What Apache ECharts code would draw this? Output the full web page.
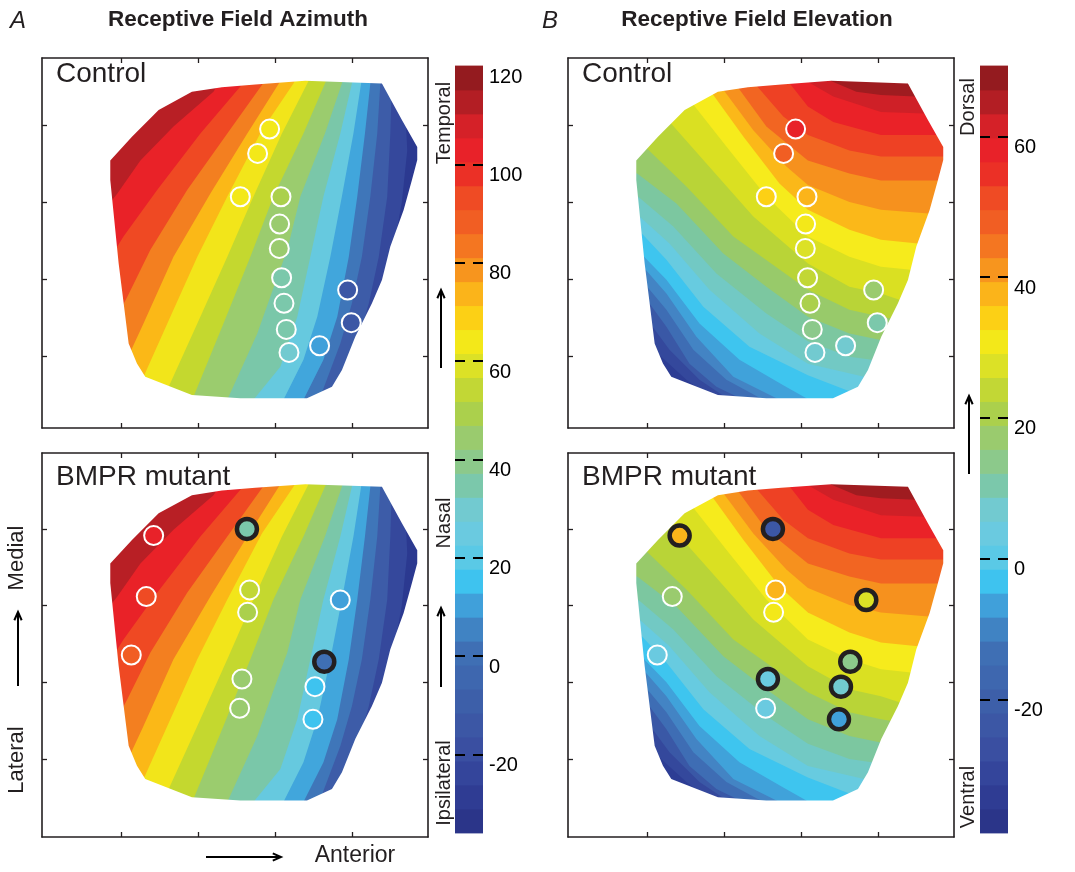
<!DOCTYPE html>
<html><head><meta charset="utf-8">
<script src="https://cdn.jsdelivr.net/npm/echarts@6/dist/echarts.min.js"></script>
<style>html,body{margin:0;padding:0;background:#fff}#c{width:1075px;height:872px}</style>
</head><body><div id="c"></div>
<script>
// ---------------- DATA ----------------
// colour scale shared by both colour bars (bottom -> top, equal steps)
const CBAR_COLORS = ['#2b3589','#2f3c93','#34459b','#3a4fa1','#3c57a5','#3d5fa9','#3e67af','#3f6fb4',
  '#4083c3','#40a0da','#3ec3ef','#5ac9e6','#6acae0','#72cad0','#7bc8ab','#8cc98b',
  '#9acb6e','#abd04c','#c2d735','#dce126','#f3e819','#fcd015','#fbb41a','#f7951e',
  '#f47621','#f15e23','#ef4b24','#eb3026','#e82229','#d52128','#b31e24','#941b1f'];
const AZ_RANGE = [-36, 120];
const EL_RANGE = [-39, 70];
const AZ_CBAR_TICKS = [-20, 0, 20, 40, 60, 80, 100];
const AZ_CBAR_LABELS = [-20, 0, 20, 40, 60, 80, 100, 120];
const EL_CBAR_TICKS = [-20, 0, 20, 40, 60];
const EL_CBAR_LABELS = [-20, 0, 20, 40, 60];

// outline of the mapped area (map units, 1 unit = 1 tick interval)
const MAP_OUTLINE = [[0.858,3.55],[1.14,3.857],[1.487,4.203],[1.92,4.44],[2.31,4.50],[2.744,4.537],[3.394,4.584],
  [4.391,4.55],[4.651,4.074],[4.85,3.723],[4.85,3.554],[4.781,3.294],[4.673,2.905],[4.499,2.429],[4.391,1.996],
  [4.261,1.693],[4.044,1.26],[3.871,0.827],[3.741,0.61],[3.416,0.459],[2.549,0.459],[1.92,0.502],[1.313,0.74],
  [1.205,0.913],[1.097,1.173],[1.032,1.693],[0.967,2.212],[0.923,2.645],[0.858,3.294]];
const MAP_TICKS = [1, 2, 3, 4];

// azimuth iso-lines (deg), ascending; each line runs from above the map to below/left of it
const AZ_LEVELS = [-20,-10,0,10,20,30,40,50,60,70,80,90,100,110];
const AZ_CONTOURS = [
  [[4.72,4.72],[4.69,4.33],[4.72,3.68],[4.65,3.01],[4.54,2.39],[4.41,1.87],[4.24,1.30],[4.07,0.87],[3.85,0.22]],
  [[4.54,4.72],[4.52,4.55],[4.50,3.90],[4.46,3.08],[4.35,2.30],[4.22,1.69],[4.07,1.17],[3.85,0.65],[3.72,0.22]],
  [[4.39,4.72],[4.37,4.55],[4.33,3.90],[4.24,3.08],[4.13,2.30],[4.00,1.69],[3.85,1.17],[3.59,0.48],[3.50,0.22]],
  [[4.26,4.72],[4.24,4.55],[4.17,3.90],[4.07,3.08],[3.96,2.30],[3.81,1.52],[3.63,0.96],[3.37,0.44],[3.29,0.22]],
  [[4.13,4.72],[4.12,4.55],[4.02,3.90],[3.87,3.08],[3.72,2.30],[3.55,1.52],[3.37,0.96],[3.11,0.44],[3.03,0.22]],
  [[4.02,4.72],[4.00,4.55],[3.85,3.90],[3.63,3.08],[3.46,2.30],[3.29,1.52],[3.07,0.87],[2.72,0.44],[2.64,0.22]],
  [[3.91,4.72],[3.87,4.55],[3.65,3.90],[3.33,3.08],[3.16,2.39],[3.00,1.95],[2.77,1.30],[2.38,0.44],[2.29,0.22]],
  [[3.72,4.72],[3.65,4.55],[3.37,3.90],[2.98,3.08],[2.68,2.30],[2.33,1.43],[1.94,0.48],[1.81,0.22]],
  [[3.50,4.72],[3.42,4.55],[3.09,3.90],[2.72,3.08],[2.38,2.30],[1.99,1.43],[1.60,0.57],[1.42,0.22]],
  [[3.33,4.72],[3.24,4.55],[2.83,3.94],[2.38,3.08],[1.99,2.30],[1.60,1.43],[1.25,0.65],[1.08,0.22]],
  [[3.16,4.72],[3.05,4.55],[2.64,3.90],[2.16,3.12],[1.68,2.30],[1.29,1.43],[1.03,0.87],[0.60,0.22]],
  [[2.98,4.72],[2.83,4.53],[2.38,3.90],[1.86,3.17],[1.38,2.39],[1.08,1.78],[0.60,0.87]],
  [[2.72,4.72],[2.55,4.51],[2.03,3.90],[1.47,3.17],[1.03,2.56],[0.60,1.87]],
  [[2.38,4.72],[2.20,4.44],[1.68,3.99],[1.25,3.55],[0.95,3.12],[0.38,2.39]]
];
// band colours: lowest band (-30..-20) first
const AZ_BAND_COLORS = ['#2b3990','#35489c','#3d5ca8','#3f76b9','#41a6dc','#66c9df','#7ac7a9','#9bcc6e',
  '#c4d82f','#f2e51a','#fbb817','#f37f20','#ef4923','#e92228','#b81f25'];

// elevation iso-lines (deg), ascending; each line runs from left/above the map to right/below it
const EL_LEVELS = [-35,-30,-25,-20,-15,-10,-5,0,5,10,15,20,25,30,35,40,45,50,55,60,65];
const EL_CONTOURS = [
  [[0.60,0.76],[1.29,0.75],[1.47,0.61],[1.60,0.00]],
  [[0.47,1.07],[1.14,1.04],[1.51,0.70],[1.81,0.48],[1.90,0.00]],
  [[0.47,1.41],[1.07,1.39],[1.29,1.09],[1.68,0.70],[2.07,0.44],[2.16,0.00]],
  [[0.47,1.71],[1.03,1.69],[1.25,1.39],[1.55,0.91],[1.90,0.61],[2.29,0.42],[2.42,0.00]],
  [[0.47,1.93],[1.00,1.91],[1.25,1.61],[1.60,1.09],[2.03,0.70],[2.51,0.44],[2.68,0.00]],
  [[0.47,2.15],[0.98,2.13],[1.25,1.82],[1.64,1.26],[2.12,0.74],[2.72,0.44],[2.98,0.00]],
  [[0.47,2.32],[0.96,2.30],[1.25,2.00],[1.68,1.43],[2.20,0.96],[2.77,0.63],[3.07,0.46],[3.42,0.00]],
  [[0.47,2.62],[0.93,2.60],[1.25,2.26],[1.73,1.65],[2.33,1.13],[3.09,0.76],[3.63,0.55],[4.07,0.00]],
  [[0.47,2.84],[0.90,2.82],[1.29,2.47],[1.81,1.87],[2.46,1.30],[3.09,0.91],[3.82,0.74],[4.98,0.65]],
  [[0.47,3.12],[0.88,3.08],[1.34,2.69],[1.90,2.08],[2.55,1.56],[3.09,1.20],[3.63,1.00],[3.92,0.96],[4.98,0.87]],
  [[0.47,3.47],[0.87,3.38],[1.38,2.99],[1.99,2.34],[2.55,1.91],[3.09,1.52],[3.63,1.30],[4.02,1.22],[4.98,1.13]],
  [[0.69,4.12],[0.99,3.71],[1.51,3.21],[2.12,2.56],[3.09,1.87],[3.63,1.61],[4.04,1.52],[4.16,1.50],[4.98,1.43]],
  [[1.03,4.46],[1.31,4.03],[1.77,3.51],[2.38,2.82],[3.09,2.21],[3.63,1.91],[4.04,1.82],[4.28,1.74],[4.98,1.69]],
  [[1.34,4.72],[1.62,4.25],[2.03,3.73],[2.55,3.08],[3.09,2.56],[3.63,2.30],[4.04,2.17],[4.43,2.13],[4.98,2.08]],
  [[1.60,4.81],[1.86,4.40],[2.25,3.86],[2.72,3.25],[3.09,2.91],[3.63,2.65],[4.04,2.52],[4.52,2.47],[4.98,2.45]],
  [[1.77,4.81],[2.01,4.44],[2.38,3.94],[2.81,3.47],[3.09,3.23],[3.63,3.01],[4.04,2.91],[4.66,2.86],[4.98,2.84]],
  [[1.99,4.81],[2.20,4.47],[2.55,3.99],[3.09,3.55],[3.63,3.38],[4.04,3.29],[4.78,3.29],[4.98,3.29]],
  [[2.25,4.81],[2.44,4.50],[2.77,4.12],[3.09,3.88],[3.63,3.68],[4.04,3.60],[4.85,3.60],[4.98,3.60]],
  [[2.64,4.81],[2.87,4.53],[3.09,4.25],[3.42,4.05],[4.04,3.88],[4.76,3.88],[4.98,3.88]],
  [[2.90,4.81],[3.11,4.56],[3.42,4.38],[4.04,4.18],[4.60,4.16],[4.98,4.14]],
  [[3.24,4.81],[3.39,4.58],[3.72,4.44],[4.04,4.40],[4.49,4.38],[4.98,4.33]]
];
// band colours: lowest band (-40..-35) first
const EL_BAND_COLORS = ['#273387','#2d3d94','#34489c','#3a58a6','#3e6db4','#4384c4','#40a2da','#3ec5ef',
  '#67cbe0','#72c9c4','#7cc7a0','#98ca6a','#b9d437','#dae022','#f6eb1c','#fbb819','#f6911e','#f26522',
  '#ee4124','#ea2228','#cf2027','#9f1c20'];

// recording sites
const CTRL_X  = [2.93, 2.774, 2.549, 3.078, 3.06, 3.056, 3.086, 3.117, 3.147, 3.182, 3.58, 3.945, 3.992];
const CTRL_Y  = [3.957, 3.641, 3.078, 3.078, 2.723, 2.407, 2.026, 1.693, 1.355, 1.056, 1.143, 1.866, 1.442];
const CTRL_AZ = [65, 63, 64, 50, 45, 44, 37, 33, 34, 30, 12, -14, -12];
const CTRL_EL = [58, 48, 34, 36, 31, 28, 24, 19, 14, 7, 7, 17, 11];
const MUT_X  = [1.422, 2.635, 1.326, 2.67, 2.644, 1.131, 3.849, 3.641, 2.57, 2.54, 3.52, 3.494];
const MUT_Y  = [3.913, 4.0, 3.118, 3.205, 2.913, 2.357, 3.074, 2.27, 2.044, 1.662, 1.944, 1.518];
const MUT_AZ = [105, 36, 93, 56, 48, 90, 11, 2, 46, 45, 17, 17];
const MUT_EL = [36, -22, 16, 38, 30, 2, 28, 14, 2, 3, 6, -6];
const MUT_AZ_BOLD = [0,1,0,0,0,0,0,1,0,0,0,0];
const MUT_EL_BOLD = [1,1,0,0,0,0,1,1,1,0,1,1];

// ---------------- RENDER ----------------
const FONT = '"Liberation Sans", Arial, Helvetica, sans-serif';
const INK = '#231f20';
const X_RANGE = [-0.03, 4.99];
const GRIDS = [
  {left:42, top:58, width:386, height:370, yr:[0.074, 4.88]},
  {left:42, top:453, width:386, height:384, yr:[-0.016, 4.99]},
  {left:568, top:58, width:386, height:370, yr:[0.074, 4.88]},
  {left:568, top:453, width:386, height:384, yr:[-0.016, 4.99]}
];
const CBARS = [
  {left:455, top:66, width:28, height:767, range:AZ_RANGE, ticks:AZ_CBAR_TICKS, labels:AZ_CBAR_LABELS},
  {left:980, top:66, width:28, height:767, range:EL_RANGE, ticks:EL_CBAR_TICKS, labels:EL_CBAR_LABELS}
];

function colorAt(v, range) {
  const n = CBAR_COLORS.length;
  let k = Math.floor((v - range[0]) / (range[1] - range[0]) * n);
  k = Math.max(0, Math.min(n - 1, k));
  return CBAR_COLORS[k];
}

function clipToRect(pts, r) {
  const x0 = r.x, y0 = r.y, x1 = r.x + r.width, y1 = r.y + r.height;
  const planes = [
    [p => p[0] >= x0, (a, b) => { const t = (x0 - a[0]) / (b[0] - a[0]); return [x0, a[1] + t * (b[1] - a[1])]; }],
    [p => p[0] <= x1, (a, b) => { const t = (x1 - a[0]) / (b[0] - a[0]); return [x1, a[1] + t * (b[1] - a[1])]; }],
    [p => p[1] >= y0, (a, b) => { const t = (y0 - a[1]) / (b[1] - a[1]); return [a[0] + t * (b[0] - a[0]), y0]; }],
    [p => p[1] <= y1, (a, b) => { const t = (y1 - a[1]) / (b[1] - a[1]); return [a[0] + t * (b[0] - a[0]), y1]; }]
  ];
  let out = pts;
  for (const [inside, inter] of planes) {
    const inp = out; out = [];
    if (!inp.length) break;
    for (let i = 0; i < inp.length; i++) {
      const cur = inp[i], prev = inp[(i + inp.length - 1) % inp.length];
      const ci = inside(cur), pi = inside(prev);
      if (ci) { if (!pi) out.push(inter(prev, cur)); out.push(cur); }
      else if (pi) out.push(inter(prev, cur));
    }
  }
  return out;
}

// filled contour bands: base colour, then each iso-line's high side painted on top
function bandSeries(gi, contours, colors, highSide) {
  const BIG = 6000;
  return {
    type: 'custom', coordinateSystem: 'cartesian2d', xAxisIndex: 2 * gi, yAxisIndex: 2 * gi,
    z: 1, silent: true, animation: false,
    data: colors.map(() => [1, 1]),
    renderItem: function (params, api) {
      const i = params.dataIndex;
      const cs = params.coordSys;
      let pts;
      if (i === 0) {
        pts = [[cs.x, cs.y], [cs.x + cs.width, cs.y], [cs.x + cs.width, cs.y + cs.height], [cs.x, cs.y + cs.height]];
      } else {
        const line = contours[i - 1].map(p => api.coord(p));
        const S = line[0], E = line[line.length - 1];
        const sx = highSide === 'left' ? -BIG : BIG;
        pts = line.concat([[sx, E[1]], [sx, -BIG], [S[0], -BIG]]);
        pts = clipToRect(pts, cs);
      }
      return { type: 'polygon', shape: { points: pts }, style: { fill: colors[i] } };
    }
  };
}

function maskSeries(gi) {
  return {
    type: 'custom', coordinateSystem: 'cartesian2d', xAxisIndex: 2 * gi, yAxisIndex: 2 * gi,
    z: 2, silent: true, animation: false, data: [[1, 1]],
    renderItem: function (params, api) {
      const cs = params.coordSys;
      const x0 = cs.x - 1, y0 = cs.y - 1, x1 = cs.x + cs.width + 1, y1 = cs.y + cs.height + 1;
      const pts = MAP_OUTLINE.map(p => api.coord(p));
      let d = 'M' + x0 + ' ' + y0 + ' L' + x0 + ' ' + y1 + ' L' + x1 + ' ' + y1 + ' L' + x1 + ' ' + y0 + ' Z ';
      d += 'M' + pts.map(p => p[0].toFixed(2) + ' ' + p[1].toFixed(2)).join(' L') + ' Z';
      return { type: 'path', shape: { pathData: d }, style: { fill: '#ffffff' } };
    }
  };
}

function dotSeries(gi, xs, ys, vals, bold, range) {
  return {
    type: 'scatter', xAxisIndex: 2 * gi, yAxisIndex: 2 * gi, z: 3, silent: true, animation: false,
    data: xs.map((x, i) => ({
      value: [x, ys[i]],
      symbolSize: bold[i] ? 20 : 19,
      itemStyle: { color: colorAt(vals[i], range), borderColor: bold[i] ? INK : '#ffffff', borderWidth: bold[i] ? 4.5 : 2, opacity: 1 }
    }))
  };
}

function cbarSeries(ci) {
  const cb = CBARS[ci];
  const n = CBAR_COLORS.length;
  return {
    type: 'custom', coordinateSystem: 'cartesian2d', xAxisIndex: 8 + ci, yAxisIndex: 8 + 2 * ci,
    z: 1, silent: true, animation: false,
    data: CBAR_COLORS.map((c, k) => [0.5, cb.range[0] + (k + 0.5) * (cb.range[1] - cb.range[0]) / n]),
    renderItem: function (params, api) {
      const k = params.dataIndex;
      const v0 = cb.range[0] + k * (cb.range[1] - cb.range[0]) / n;
      const v1 = cb.range[0] + (k + 1) * (cb.range[1] - cb.range[0]) / n;
      const p0 = api.coord([0, v0]), p1 = api.coord([1, v1]);
      return { type: 'rect', shape: { x: p0[0], y: p1[1] - 0.4, width: p1[0] - p0[0], height: p0[1] - p1[1] + 0.8 },
        style: { fill: CBAR_COLORS[k] } };
    }
  };
}

const xAxes = [], yAxes = [], grids = [];
GRIDS.forEach((g, gi) => {
  grids.push({ left: g.left, top: g.top, width: g.width, height: g.height, containLabel: false });
  const base = {
    gridIndex: gi, type: 'value', z: 10,
    axisLine: { show: true, onZero: false, lineStyle: { color: INK, width: 1.6 } },
    axisTick: { show: true, inside: true, length: 5, customValues: MAP_TICKS, lineStyle: { color: INK, width: 1.3 } },
    axisLabel: { show: false }, splitLine: { show: false }
  };
  xAxes.push(Object.assign({}, base, { position: 'bottom', min: X_RANGE[0], max: X_RANGE[1] }));
  xAxes.push(Object.assign({}, base, { position: 'top', min: X_RANGE[0], max: X_RANGE[1] }));
  yAxes.push(Object.assign({}, base, { position: 'left', min: g.yr[0], max: g.yr[1] }));
  yAxes.push(Object.assign({}, base, { position: 'right', min: g.yr[0], max: g.yr[1] }));
});
CBARS.forEach((cb, ci) => {
  grids.push({ left: cb.left, top: cb.top, width: cb.width, height: cb.height, containLabel: false });
  xAxes.push({ gridIndex: 4 + ci, type: 'value', min: 0, max: 1, show: false });
  const tick = { show: true, inside: true, length: 10, customValues: cb.ticks, lineStyle: { color: '#000', width: 2 } };
  yAxes.push({ gridIndex: 4 + ci, type: 'value', position: 'left', min: cb.range[0], max: cb.range[1], z: 10,
    axisLine: { show: false }, axisTick: tick, axisLabel: { show: false }, splitLine: { show: false } });
  yAxes.push({ gridIndex: 4 + ci, type: 'value', position: 'right', min: cb.range[0], max: cb.range[1], z: 10,
    axisLine: { show: false }, axisTick: tick, splitLine: { show: false },
    axisLabel: { show: true, customValues: cb.labels, color: '#000', fontSize: 20, fontFamily: FONT, margin: 6,
      verticalAlign: 'top', lineHeight: 22, showMinLabel: true, showMaxLabel: true } });
});

const series = [
  bandSeries(0, AZ_CONTOURS, AZ_BAND_COLORS, 'left'), maskSeries(0), dotSeries(0, CTRL_X, CTRL_Y, CTRL_AZ, CTRL_X.map(() => 0), AZ_RANGE),
  bandSeries(1, AZ_CONTOURS, AZ_BAND_COLORS, 'left'), maskSeries(1), dotSeries(1, MUT_X, MUT_Y, MUT_AZ, MUT_AZ_BOLD, AZ_RANGE),
  bandSeries(2, EL_CONTOURS, EL_BAND_COLORS, 'right'), maskSeries(2), dotSeries(2, CTRL_X, CTRL_Y, CTRL_EL, CTRL_X.map(() => 0), EL_RANGE),
  bandSeries(3, EL_CONTOURS, EL_BAND_COLORS, 'right'), maskSeries(3), dotSeries(3, MUT_X, MUT_Y, MUT_EL, MUT_EL_BOLD, EL_RANGE),
  cbarSeries(0), cbarSeries(1)
];

function txt(x, y, text, size, o) {
  o = o || {};
  return { type: 'text', x: x, y: y, rotation: o.rot || 0, z: 100, silent: true,
    style: { text: text, x: 0, y: 0, fill: o.color || INK,
      font: (o.italic ? 'italic ' : '') + (o.bold ? 'bold ' : '') + size + 'px ' + FONT,
      textAlign: o.align || 'center', textVerticalAlign: 'middle', align: o.align || 'center', verticalAlign: 'middle' } };
}
function arrow(x1, y1, x2, y2) {
  const ang = Math.atan2(y2 - y1, x2 - x1), L = 9, w = 0.42;
  const a1 = [x2 - L * Math.cos(ang - w), y2 - L * Math.sin(ang - w)];
  const a2 = [x2 - L * Math.cos(ang + w), y2 - L * Math.sin(ang + w)];
  return [
    { type: 'line', z: 100, silent: true, shape: { x1: x1, y1: y1, x2: x2, y2: y2 }, style: { stroke: '#000', lineWidth: 2 } },
    { type: 'polyline', z: 100, silent: true, shape: { points: [a1, [x2, y2], a2] }, style: { stroke: '#000', lineWidth: 2, fill: null } }
  ];
}
const R90 = Math.PI / 2;
const graphics = [
  txt(18, 21, 'A', 24, { italic: true }),
  txt(550, 21, 'B', 24, { italic: true }),
  txt(238, 20, 'Receptive Field Azimuth', 22.5, { bold: true }),
  txt(757, 20, 'Receptive Field Elevation', 22.5, { bold: true }),
  txt(56, 74, 'Control', 28, { align: 'left' }),
  txt(56, 477, 'BMPR mutant', 28, { align: 'left' }),
  txt(582, 74, 'Control', 28, { align: 'left' }),
  txt(582, 477, 'BMPR mutant', 28, { align: 'left' }),
  txt(444, 123, 'Temporal', 20, { rot: R90 }),
  txt(444, 523, 'Nasal', 20, { rot: R90 }),
  txt(444, 783, 'Ipsilateral', 20, { rot: R90 }),
  txt(968, 107, 'Dorsal', 20, { rot: R90 }),
  txt(968, 797, 'Ventral', 20, { rot: R90 }),
  txt(17, 558, 'Medial', 22, { rot: R90 }),
  txt(17, 760, 'Lateral', 22, { rot: R90 }),
  txt(355, 856, 'Anterior', 23)
].concat(arrow(441, 368, 441, 290), arrow(441, 687, 441, 608), arrow(969, 474, 969, 396),
  arrow(18, 686, 18, 612), arrow(206, 857, 281, 857));

const chart = echarts.init(document.getElementById('c'), null, { renderer: 'canvas' });
chart.setOption({
  backgroundColor: '#ffffff', animation: false,
  grid: grids, xAxis: xAxes, yAxis: yAxes, series: series, graphic: { elements: graphics }
});
</script></body></html>
